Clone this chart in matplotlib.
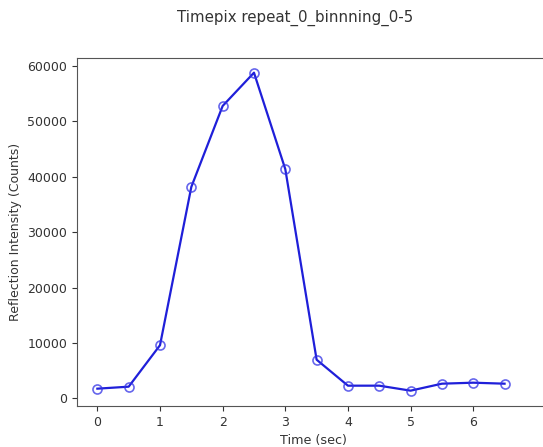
import matplotlib
matplotlib.use("Agg")
import matplotlib.pyplot as plt

# Time samples (sec) and measured reflection intensity (counts)
time_sec = [0, 0.5, 1, 1.5, 2, 2.5, 3, 3.5, 4, 4.5, 5, 5.5, 6, 6.5]
intensity = [1730, 2090, 9580, 38170, 52790, 58800, 41370, 6960,
             2270, 2270, 1370, 2630, 2810, 2630]
x_ticks = [0, 1, 2, 3, 4, 5, 6]
y_ticks = [0, 10000, 20000, 30000, 40000, 50000, 60000]

W, H = 543, 447
fig = plt.figure(figsize=(W / 100, H / 100), dpi=100)
left, right, top, bottom = 77, 550, 58, 406
ax = fig.add_axes([left / W, 1 - bottom / H, (right - left) / W, (bottom - top) / H])

ax.plot(time_sec, intensity, color=(0.12, 0.12, 0.85), linewidth=1.6,
        marker="o", markersize=6.5, markerfacecolor="none",
        markeredgecolor=(0.2, 0.2, 0.9, 0.75), markeredgewidth=1.2)

ax.set_xlim(-0.325, (right - 97.7) / 62.6)
ax.set_ylim(-1400, 61450)
ax.set_xticks(x_ticks)
ax.set_yticks(y_ticks)
ax.tick_params(labelsize=9, colors="#333333")
for s in ax.spines.values():
    s.set_color("#555555")
ax.spines["right"].set_visible(False)

ax.set_xlabel("Time (sec)", fontsize=9.2, labelpad=4, color="#333333")
ax.set_ylabel("Reflection Intensity (Counts)", fontsize=9, color="#333333")
fig.text(295 / W, 1 - 18 / H, "Timepix repeat_0_binnning_0-5",
         ha="center", va="center", fontsize=10.8, color="#333333")

fig.savefig("out.png", dpi=100)
